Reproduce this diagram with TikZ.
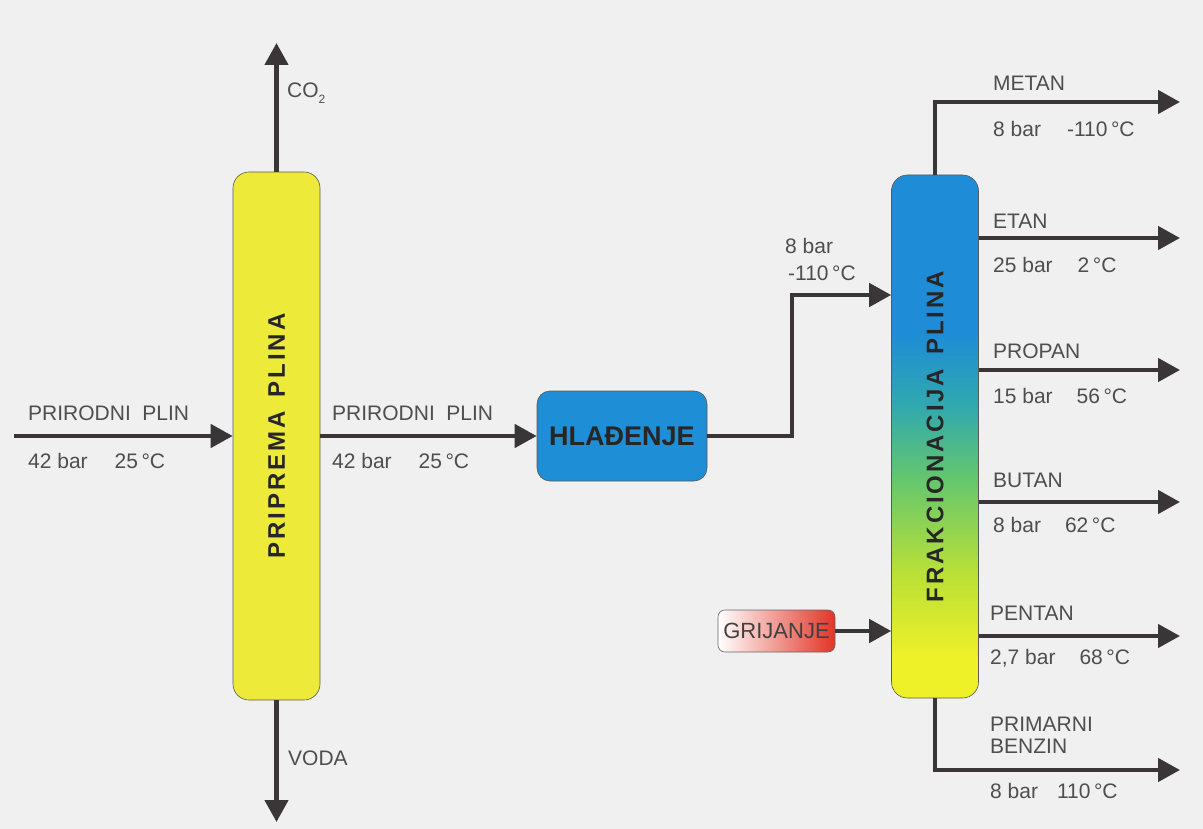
\documentclass[tikz,border=0pt]{standalone}
\usepackage{fontspec}
\setmainfont{Liberation Sans}
\newfontfamily\boxfont[LetterSpace=12]{Liberation Sans}
\usetikzlibrary{arrows.meta}
\definecolor{bgc}{RGB}{240,240,241}
\definecolor{arr}{RGB}{58,53,54}
\definecolor{lblc}{RGB}{78,78,78}
\definecolor{yel}{RGB}{238,234,58}
\definecolor{hblue}{RGB}{30,142,214}
\definecolor{fblue}{RGB}{30,140,215}
\definecolor{fteal}{RGB}{48,168,175}
\definecolor{fgreen}{RGB}{100,198,110}
\definecolor{fygr}{RGB}{185,224,55}
\definecolor{fyel}{RGB}{238,240,40}
\definecolor{gred}{RGB}{226,52,38}
\pgfdeclareverticalshading{frakshade}{100bp}{color(0bp)=(fyel); color(29bp)=(fyel); color(37bp)=(fygr); color(46bp)=(fgreen); color(53bp)=(fteal); color(60bp)=(fblue); color(100bp)=(fblue)}
\tikzset{
  flow/.style={draw=arr, line width=4.5pt, -{Triangle[length=22pt,width=23pt]}},
  txt/.style={anchor=west, inner sep=0pt, text=lblc, font=\fontsize{21}{23}\selectfont},
  column/.style={draw=black!65, line width=0.6pt, rounded corners=16pt, minimum width=87pt, inner sep=0pt},
  coltext/.style={rotate=90, inner sep=0pt, text=black!85, font=\boxfont\bfseries\fontsize{24}{26}\selectfont},
  hlabox/.style={draw=black!65, line width=0.6pt, rounded corners=13pt, fill=hblue, minimum width=170pt, minimum height=90pt, inner sep=0pt, text=black!85, font=\bfseries\fontsize{27}{29}\selectfont},
  gribox/.style={draw=black!60, line width=0.6pt, rounded corners=7pt, left color=white, right color=gred, minimum width=117pt, minimum height=42pt, inner sep=0pt, text=black!75, font=\fontsize{22}{24}\selectfont},
}
\begin{document}
\begin{tikzpicture}[x=1pt,y=-1pt]
\fill[bgc] (0,0) rectangle (1203,829);
\useasboundingbox (0,0) rectangle (1203,829);

% boxes
\node[column, fill=yel, minimum height=528pt] (prep) at (276.5,436) {};
\node[coltext] (preptxt) at (prep.center) {PRIPREMA\hspace{0.6em}PLINA};
\node[hlabox] (hla) at (622,436) {HLAĐENJE};
\node[column, shade, shading=frakshade, minimum height=523pt] (frak) at (935,436.5) {};
\node[coltext] (fraktxt) at (frak.center) {FRAKCIONACIJA\hspace{0.6em}PLINA};
\node[gribox] (gri) at (776.5,631) {GRIJANJE};

% free ends
\coordinate (inL) at (14,436);
\coordinate (co2) at (276.5,43);
\coordinate (voda) at (276.5,822);
\coordinate (bend) at (792,295);
\coordinate (metan) at (1180,102);
\coordinate (etan) at (1180,238);
\coordinate (propan) at (1180,370);
\coordinate (butan) at (1180,502);
\coordinate (pentan) at (1180,636);
\coordinate (benz) at (1180,770);

% connectors
\draw[flow] (inL) -- (prep.west);
\draw[flow] (prep.east) -- (hla.west);
\draw[flow] (prep.north) -- (co2);
\draw[flow] (prep.south) -- (voda);
\draw[flow] (hla.east) -| (bend) -- (bend -| frak.west);
\draw[flow] (gri.east) -- (gri.east -| frak.west);
\draw[flow] (frak.north) |- (metan);
\draw[flow] (frak.east |- etan) -- (etan);
\draw[flow] (frak.east |- propan) -- (propan);
\draw[flow] (frak.east |- butan) -- (butan);
\draw[flow] (frak.east |- pentan) -- (pentan);
\draw[flow] (frak.south) |- (benz);

% labels
\node[txt] (l1) at (28,413) {PRIRODNI\hspace{0.55em}PLIN};
\node[txt] (l2) at (28,461) {42 bar\hspace{27pt}25\,°C};
\node[txt] (l3) at (332,413) {PRIRODNI\hspace{0.55em}PLIN};
\node[txt] (l4) at (332,461) {42 bar\hspace{27pt}25\,°C};
\node[txt] (lco2) at (287,93) {CO\raisebox{-0.28em}{\fontsize{12}{12}\selectfont 2}};
\node[txt] (lvoda) at (288,758) {VODA};
\node[txt] (lh1) at (785,246) {8 bar};
\node[txt] (lh2) at (788,273) {-110\,°C};

\node[txt] (m1) at (993,83) {METAN};
\node[txt] (m2) at (993,129) {8 bar\hspace{26pt}-110\,°C};
\node[txt] (e1) at (993,221) {ETAN};
\node[txt] (e2) at (993,265) {25 bar\hspace{25pt}2\,°C};
\node[txt] (p1) at (993,351) {PROPAN};
\node[txt] (p2) at (993,396) {15 bar\hspace{24pt}56\,°C};
\node[txt] (b1) at (993,480) {BUTAN};
\node[txt] (b2) at (993,525) {8 bar\hspace{24pt}62\,°C};
\node[txt] (n1) at (990,613) {PENTAN};
\node[txt] (n2) at (990,658) {2,7 bar\hspace{24pt}68\,°C};
\node[txt, align=left, font=\fontsize{21}{22}\selectfont] (r1) at (990,735) {PRIMARNI\\BENZIN};
\node[txt] (r2) at (990,791) {8 bar\hspace{19pt}110\,°C};
\end{tikzpicture}
\end{document}
